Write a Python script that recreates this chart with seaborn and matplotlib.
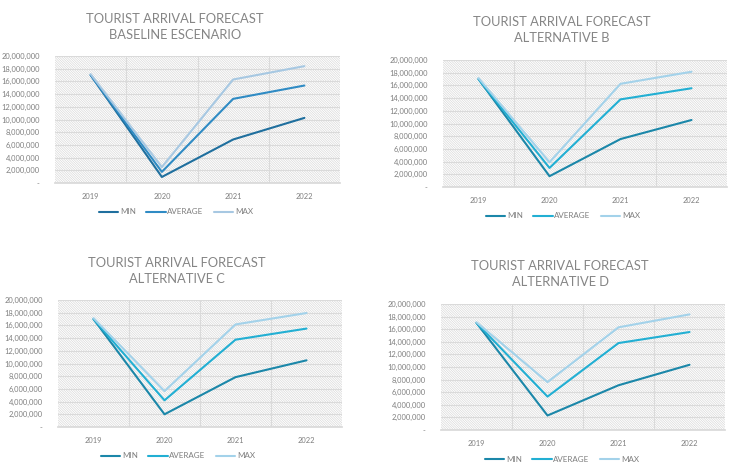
import matplotlib.pyplot as plt
import matplotlib.ticker as mticker
from matplotlib.patches import Rectangle
import pandas as pd
import seaborn as sns

years = ["2019", "2020", "2021", "2022"]
series = ["MIN", "AVERAGE", "MAX"]

titles = [
    "TOURIST ARRIVAL FORECAST\nBASELINE ESCENARIO",
    "TOURIST ARRIVAL FORECAST\nALTERNATIVE B",
    "TOURIST ARRIVAL FORECAST\nALTERNATIVE C",
    "TOURIST ARRIVAL FORECAST\nALTERNATIVE D",
]

baseline_min = [17000000, 950000, 6850000, 10250000]
baseline_avg = [17000000, 1750000, 13250000, 15350000]
baseline_max = [17150000, 2500000, 16300000, 18400000]

alt_b_min = [17000000, 1700000, 7550000, 10550000]
alt_b_avg = [17000000, 3000000, 13800000, 15550000]
alt_b_max = [17150000, 3900000, 16250000, 18150000]

alt_c_min = [17000000, 2000000, 7850000, 10500000]
alt_c_avg = [17000000, 4200000, 13750000, 15500000]
alt_c_max = [17150000, 5650000, 16150000, 17950000]

alt_d_min = [17000000, 2300000, 7100000, 10350000]
alt_d_avg = [17000000, 5300000, 13800000, 15550000]
alt_d_max = [17100000, 7600000, 16300000, 18350000]

panel_values = [
    (baseline_min, baseline_avg, baseline_max),
    (alt_b_min, alt_b_avg, alt_b_max),
    (alt_c_min, alt_c_avg, alt_c_max),
    (alt_d_min, alt_d_avg, alt_d_max),
]

palette_a = {"MIN": "#1f6f9e", "AVERAGE": "#2f8bc4", "MAX": "#a7c8e2"}
palette_bcd = {"MIN": "#1b87a9", "AVERAGE": "#22afd3", "MAX": "#a3d2ea"}
palettes = [palette_a, palette_bcd, palette_bcd, palette_bcd]

# layout in pixels of the 739x474 figure
W, H = 739, 474
axes_px = [(55, 56, 340, 183), (443, 60, 727, 187), (58, 300, 342, 427), (441, 304, 725, 430)]
title_px = [(175, 27), (562, 30), (177, 271), (560, 274)]
legend_px = [(176, 212), (563, 216), (178, 456), (562, 459)]

sns.set_theme(style="white")
plt.rcParams["font.family"] = ["Lato", "DejaVu Sans"]
plt.rcParams["hatch.linewidth"] = 0.45

fig = plt.figure(figsize=(W / 100, H / 100), dpi=100)

for i in range(4):
    x0, y0, x1, y1 = axes_px[i]
    ax = fig.add_axes([x0 / W, 1 - y1 / H, (x1 - x0) / W, (y1 - y0) / H])

    vmin, vavg, vmax = panel_values[i]
    df = pd.DataFrame({
        "x": list(range(4)) * 3,
        "value": vmin + vavg + vmax,
        "series": ["MIN"] * 4 + ["AVERAGE"] * 4 + ["MAX"] * 4,
    })

    ax.add_patch(Rectangle((0, 0), 1, 1, transform=ax.transAxes, facecolor="none",
                           edgecolor="#d6d6d6", hatch="\\" * 14, linewidth=0, zorder=0))

    sns.lineplot(data=df, x="x", y="value", hue="series", hue_order=series,
                 palette=palettes[i], linewidth=1.5, ax=ax, legend=False, zorder=3)

    ax.set_xlim(-0.5, 3.5)
    ax.set_ylim(0, 20000000)
    ax.set_xticks(range(4))
    ax.set_xticklabels(years)
    ax.set_xticks([0.5, 1.5, 2.5], minor=True)
    ax.set_yticks(range(0, 20000001, 2000000))
    ax.yaxis.set_major_formatter(mticker.FuncFormatter(lambda v, p: "-" if v == 0 else f"{v:,.0f}"))
    ax.grid(axis="y", which="major", color="#dadada", linewidth=0.8)
    ax.grid(axis="x", which="minor", color="#dadada", linewidth=0.8)
    ax.grid(axis="x", which="major", visible=False)
    ax.set_axisbelow(True)
    ax.tick_params(axis="both", which="both", length=0, labelsize=5.4, labelcolor="#7f7f7f")
    ax.tick_params(axis="x", pad=7)
    ax.tick_params(axis="y", pad=11)
    for s in ["top", "left", "right"]:
        ax.spines[s].set_visible(False)
    ax.spines["bottom"].set_color("#d9d9d9")
    ax.set(xlabel="", ylabel="")

    tx, ty = title_px[i]
    fig.text(tx / W, 1 - ty / H, titles[i], ha="center", va="center", fontsize=9.3,
             color="#858585", linespacing=1.35)

    handles = [plt.Line2D([], [], color=palettes[i][s], linewidth=1.5) for s in series]
    lx, ly = legend_px[i]
    fig.legend(handles, series, loc="center", bbox_to_anchor=(lx / W, 1 - ly / H), ncol=3,
               frameon=False, fontsize=5.8, labelcolor="#7f7f7f", handlelength=2.4,
               handletextpad=0.2, columnspacing=1.3)

fig.savefig("out.png", dpi=100)
